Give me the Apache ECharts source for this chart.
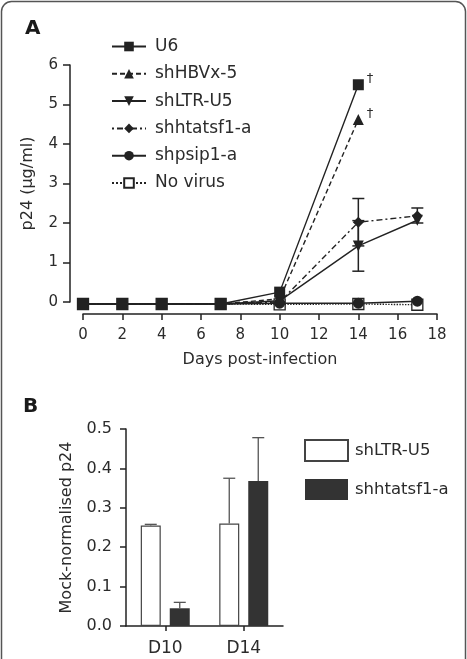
<!DOCTYPE html>
<html>
<head>
<meta charset="utf-8">
<script src="https://cdn.jsdelivr.net/npm/echarts@6/dist/echarts.min.js"></script>
<style>
  html, body { margin: 0; padding: 0; background: #fff; }
  #chart { width: 467px; height: 659px; }
</style>
</head>
<body>
<div id="chart"></div>
<script>
// panel A: p24 over time
const days = [0, 2, 4, 7, 10, 14, 17];
const u6 = [-0.05, -0.05, -0.05, -0.05, 0.25, 5.5, null];
const shHBVx5 = [-0.05, -0.05, -0.05, -0.05, 0.08, 4.62, null];
const shLTRU5 = [-0.05, -0.05, -0.05, -0.05, 0.03, 1.42, 2.07];
const shhtatsf1a = [-0.05, -0.05, -0.05, -0.05, 0.0, 2.02, 2.18];
const shpsip1a = [-0.05, -0.05, -0.05, -0.05, -0.03, -0.03, 0.02];
const noVirus = [-0.05, -0.05, -0.05, -0.05, -0.06, -0.05, -0.07];
// error bars in panel A: [day, low, high]
const errA = [[14, 0.78, 2.06], [14, 1.42, 2.62], [17, 2.0, 2.38]];
const daggerDay = 14;

// panel B: mock-normalised p24
const catsB = ['D10', 'D14'];
const ltrB = [0.255, 0.26];
const ltrErrB = [0.003, 0.115];
const tatB = [0.045, 0.368];
const tatErrB = [0.015, 0.11];

const font = 'DejaVu Sans, Verdana, sans-serif';
const ink = '#222';
const txt = '#2b2b2b';

const chart = echarts.init(document.getElementById('chart'));

function pairs(vals) {
  return days.map((d, i) => [d, vals[i]]);
}

function lineSeries(name, vals, symbol, lineType, filled, dagger) {
  return {
    name: name,
    type: 'line',
    xAxisIndex: 0,
    yAxisIndex: 0,
    data: pairs(vals),
    clip: false,
    symbol: symbol,
    symbolSize: 11,
    showAllSymbol: true,
    lineStyle: { color: ink, width: 1.4, type: lineType },
    itemStyle: filled
      ? { color: ink }
      : { color: '#fff', borderColor: ink, borderWidth: 1.3 },
    label: {
      show: !!dagger,
      position: [14, -7],
      fontFamily: font,
      fontSize: 13,
      color: txt,
      formatter: p => (p.value[0] === daggerDay ? '\u2020' : '')
    },
    z: 3
  };
}

const downTri = 'path://M0,0 L10,0 L5,9 Z';

const option = {
  animation: false,
  backgroundColor: '#fff',
  textStyle: { fontFamily: font },
  graphic: [
    {
      type: 'rect',
      shape: { x: 1.5, y: 1.5, width: 464, height: 690, r: 10 },
      style: { fill: 'none', stroke: '#555', lineWidth: 1.5 },
      silent: true
    },
    { type: 'text', left: 25, top: 19, style: { text: 'A', font: 'bold 20px ' + font, fill: '#1a1a1a' } },
    { type: 'text', left: 23, top: 397, style: { text: 'B', font: 'bold 20px ' + font, fill: '#1a1a1a' } }
  ],
  legend: [
    {
      orient: 'vertical',
      left: 111,
      top: 38,
      padding: 0,
      itemWidth: 34,
      itemHeight: 12,
      itemGap: 10.3,
      data: ['U6', 'shHBVx-5', 'shLTR-U5', 'shhtatsf1-a', 'shpsip1-a', 'No virus'],
      textStyle: { fontFamily: font, fontSize: 17, color: txt, lineHeight: 17, padding: [0, 0, 0, 4] }
    },
    {
      orient: 'vertical',
      left: 304,
      top: 439,
      padding: 0,
      itemWidth: 43,
      itemHeight: 21,
      itemGap: 17,
      icon: 'rect',
      data: ['shLTR-U5 ', 'shhtatsf1-a '],
      textStyle: { fontFamily: font, fontSize: 16.5, color: txt, padding: [0, 0, 0, 2] }
    }
  ],
  grid: [
    { left: 83, top: 65, width: 354, height: 237 },
    { left: 126, top: 429, width: 157, height: 197 }
  ],
  xAxis: [
    {
      gridIndex: 0,
      type: 'value',
      min: 0,
      max: 18,
      interval: 2,
      offset: 12,
      name: 'Days post-infection',
      nameLocation: 'middle',
      nameGap: 38,
      nameTextStyle: { fontFamily: font, fontSize: 16, color: txt },
      axisLine: { show: true, onZero: false, lineStyle: { color: ink, width: 1.5 } },
      axisTick: { show: true, length: 6, lineStyle: { color: ink, width: 1.5 } },
      axisLabel: { fontFamily: font, fontSize: 15, color: txt, margin: 14 },
      splitLine: { show: false }
    },
    {
      gridIndex: 1,
      type: 'category',
      data: catsB,
      axisLine: { show: true, onZero: false, lineStyle: { color: ink, width: 1.5 } },
      axisTick: { show: true, alignWithLabel: true, length: 5, lineStyle: { color: ink, width: 1.5 } },
      axisLabel: { fontFamily: font, fontSize: 17, color: txt, margin: 14 },
      splitLine: { show: false }
    }
  ],
  yAxis: [
    {
      gridIndex: 0,
      type: 'value',
      min: 0,
      max: 6,
      interval: 1,
      offset: 13,
      name: 'p24 (\u00b5g/ml)',
      nameLocation: 'middle',
      nameGap: 34,
      nameTextStyle: { fontFamily: font, fontSize: 16, color: txt },
      axisLine: { show: true, onZero: false, lineStyle: { color: ink, width: 1.5 } },
      axisTick: { show: true, length: 7, lineStyle: { color: ink, width: 1.5 } },
      axisLabel: { fontFamily: font, fontSize: 15, color: txt, margin: 12 },
      splitLine: { show: false }
    },
    {
      gridIndex: 1,
      type: 'value',
      min: 0,
      max: 0.5,
      interval: 0.1,
      name: 'Mock-normalised p24',
      nameLocation: 'middle',
      nameGap: 51,
      nameTextStyle: { fontFamily: font, fontSize: 16, color: txt },
      axisLine: { show: true, onZero: false, lineStyle: { color: ink, width: 1.5 } },
      axisTick: { show: true, length: 6, lineStyle: { color: ink, width: 1.5 } },
      axisLabel: { fontFamily: font, fontSize: 16, color: txt, margin: 14, formatter: v => v.toFixed(1) },
      splitLine: { show: false }
    }
  ],
  series: [
    lineSeries('No virus', noVirus, 'rect', 'dotted', false, false),
    lineSeries('shpsip1-a', shpsip1a, 'circle', 'solid', true, false),
    lineSeries('shhtatsf1-a', shhtatsf1a, 'diamond', [2, 3, 6, 3], true, false),
    lineSeries('shLTR-U5', shLTRU5, downTri, 'solid', true, false),
    lineSeries('shHBVx-5', shHBVx5, 'triangle', [5, 3], true, true),
    lineSeries('U6', u6, 'rect', 'solid', true, true),
    {
      type: 'custom',
      xAxisIndex: 0,
      yAxisIndex: 0,
      data: errA,
      encode: { x: 0, y: [1, 2] },
      z: 2,
      renderItem: function (params, api) {
        const lo = api.coord([api.value(0), api.value(1)]);
        const hi = api.coord([api.value(0), api.value(2)]);
        const w = 6;
        const st = { stroke: ink, lineWidth: 1.5 };
        return {
          type: 'group',
          children: [
            { type: 'line', shape: { x1: lo[0], y1: lo[1], x2: hi[0], y2: hi[1] }, style: st },
            { type: 'line', shape: { x1: lo[0] - w, y1: lo[1], x2: lo[0] + w, y2: lo[1] }, style: st },
            { type: 'line', shape: { x1: hi[0] - w, y1: hi[1], x2: hi[0] + w, y2: hi[1] }, style: st }
          ]
        };
      }
    },
    {
      name: 'shLTR-U5 ',
      type: 'bar',
      xAxisIndex: 1,
      yAxisIndex: 1,
      data: ltrB,
      barWidth: 20,
      barGap: '45%',
      itemStyle: { color: '#fff', borderColor: '#444', borderWidth: 1.2 }
    },
    {
      name: 'shhtatsf1-a ',
      type: 'bar',
      xAxisIndex: 1,
      yAxisIndex: 1,
      data: tatB,
      barWidth: 20,
      barGap: '45%',
      itemStyle: { color: '#333' }
    },
    {
      type: 'custom',
      xAxisIndex: 1,
      yAxisIndex: 1,
      data: catsB.map((c, i) => [i, ltrB[i], ltrErrB[i], -1])
        .concat(catsB.map((c, i) => [i, tatB[i], tatErrB[i], 1])),
      encode: { x: 0, y: 1 },
      z: 3,
      renderItem: function (params, api) {
        const side = api.value(3);
        const base = api.coord([api.value(0), api.value(1)]);
        const top = api.coord([api.value(0), api.value(1) + api.value(2)]);
        const x = base[0] + side * 14.5;
        const w = 6;
        const st = { stroke: '#555', lineWidth: 1.3 };
        return {
          type: 'group',
          children: [
            { type: 'line', shape: { x1: x, y1: base[1], x2: x, y2: top[1] }, style: st },
            { type: 'line', shape: { x1: x - w, y1: top[1], x2: x + w, y2: top[1] }, style: st }
          ]
        };
      }
    }
  ]
};

chart.setOption(option);
</script>
</body>
</html>
